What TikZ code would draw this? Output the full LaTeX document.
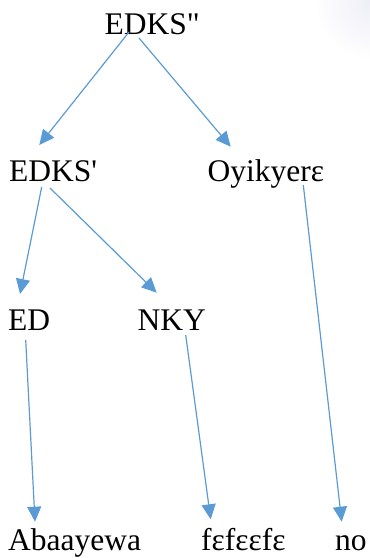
\documentclass[tikz,border=0pt]{standalone}
\usepackage{fontspec}
\newfontfamily\treefont{LiberationSerif-Regular.ttf}[Ligatures=ResetAll]
\usetikzlibrary{arrows.meta}
\definecolor{branch}{RGB}{91,155,213}
\definecolor{haze}{RGB}{238,238,247}
\tikzset{
  word/.style={anchor=base west, inner sep=0pt, font=\treefont\fontsize{31.5}{36}\selectfont},
  branchline/.style={draw=branch, line width=1.2pt,
    -{Triangle[length=15pt,width=14pt]}}
}
\begin{document}
\begin{tikzpicture}[x=1pt,y=-1pt]
  \useasboundingbox (0,0) rectangle (370,558);
  % soft tint in the upper right corner
  \begin{scope}
    \clip (300,0) rectangle (370,70);
    \shade[inner color=haze, outer color=white] (372,2) circle (58);
  \end{scope}

  % tree labels
  \node[word] (top)  at (104.5,34.3)  {EDKS\char34};
  \node[word] (edks) at (9,181.7)     {EDKS\char39};
  \node[word] (oyi)  at (207.5,181.7) {Oyikyerɛ};
  \node[word] (ed)   at (8,330)       {ED};
  \node[word] (nky)  at (137.5,330)   {NKY};
  \node[word] (aba)  at (8,550.7)     {Abaayewa};
  \node[word] (fef)  at (201,550.7)   {fɛfɛɛfɛ};
  \node[word] (no)   at (335,550.7)   {no};

  % branch end points, placed against the labels
  \coordinate (topL)  at ([shift={(24.5,-2.3)}]top.base west);
  \coordinate (topR)  at ([shift={(34.5,3.7)}]top.base west);
  \coordinate (edksT) at ([shift={(30.3,-36.7)}]edks.base west);
  \coordinate (oyiT)  at ([shift={(23.2,-35)}]oyi.base west);
  \coordinate (edksL) at ([shift={(32.7,5.3)}]edks.base west);
  \coordinate (edksR) at ([shift={(41,6.3)}]edks.base west);
  \coordinate (oyiB)  at ([shift={(95.8,3.3)}]oyi.base west);
  \coordinate (edT)   at ([shift={(12,-36)}]ed.base west);
  \coordinate (nkyT)  at ([shift={(19.2,-37.3)}]nky.base west);
  \coordinate (edB)   at ([shift={(17.7,10)}]ed.base west);
  \coordinate (nkyB)  at ([shift={(48.2,5)}]nky.base west);
  \coordinate (abaT)  at ([shift={(27,-29)}]aba.base west);
  \coordinate (fefT)  at ([shift={(9.7,-31.4)}]fef.base west);
  \coordinate (noT)   at ([shift={(6.7,-29)}]no.base west);

  % branches
  \draw[branchline] (topL) -- (edksT);
  \draw[branchline] (topR) -- (oyiT);
  \draw[branchline] (edksL) -- (edT);
  \draw[branchline] (edksR) -- (nkyT);
  \draw[branchline] (edB) -- (abaT);
  \draw[branchline] (nkyB) -- (fefT);
  \draw[branchline] (oyiB) -- (noT);
\end{tikzpicture}
\end{document}
